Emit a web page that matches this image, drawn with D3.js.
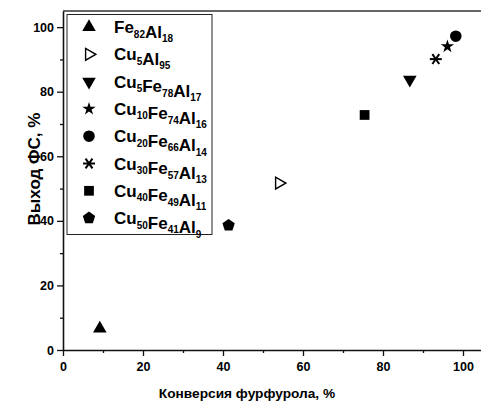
<!DOCTYPE html>
<html>
<head>
<meta charset="utf-8">
<script src="https://cdn.jsdelivr.net/npm/d3@7"></script>
<style>
  body { margin: 0; background: #fff; }
  text { font-family: Arial, "Liberation Sans", sans-serif; font-weight: bold; fill: #000; }
</style>
</head>
<body>
<div></div>
<script>
// catalyst composition: [element, subscript] pairs
const names = [
  [['Fe', '82'], ['Al', '18']],
  [['Cu', '5'], ['Al', '95']],
  [['Cu', '5'], ['Fe', '78'], ['Al', '17']],
  [['Cu', '10'], ['Fe', '74'], ['Al', '16']],
  [['Cu', '20'], ['Fe', '66'], ['Al', '14']],
  [['Cu', '30'], ['Fe', '57'], ['Al', '13']],
  [['Cu', '40'], ['Fe', '49'], ['Al', '11']],
  [['Cu', '50'], ['Fe', '41'], ['Al', '9']]
];
const symbols = ['triUp', 'triRight', 'triDown', 'star', 'circle', 'asterisk', 'square', 'pentagon'];
const conversion = [9.2, 54.0, 86.7, 96.1, 98.2, 93.2, 75.4, 41.4];
const yieldFS = [6.6, 51.7, 83.7, 94.0, 97.2, 90.1, 72.8, 38.6];
const majorTicks = [0, 20, 40, 60, 80, 100];
const minorTicks = [10, 30, 50, 70, 90];

const w = 481;
const h = 403;

const svg = d3
  .select('body')
  .select('div')
  .append('svg')
  .attr('width', w)
  .attr('height', h);

const x = d3.scaleLinear().domain([0, 105]).range([63, 483]);
const y = d3.scaleLinear().domain([0, 105]).range([350, 11]);

// marker shapes
const pentagon = {
  draw(ctx, size) {
    const r = Math.sqrt(size / 2.378);
    for (let i = 0; i < 5; i++) {
      const a = -Math.PI / 2 + (i * 2 * Math.PI) / 5;
      const px = r * Math.cos(a);
      const py = r * Math.sin(a);
      if (i === 0) ctx.moveTo(px, py);
      else ctx.lineTo(px, py);
    }
    ctx.closePath();
  }
};

function marker(g, type) {
  if (type === 'triUp') {
    g.append('path').attr('d', d3.symbol(d3.symbolTriangle, 80)());
  } else if (type === 'triDown') {
    g.append('path').attr('d', d3.symbol(d3.symbolTriangle, 80)()).attr('transform', 'rotate(180)');
  } else if (type === 'triRight') {
    g.append('path')
      .attr('d', d3.symbol(d3.symbolTriangle, 60)())
      .attr('transform', 'rotate(90)')
      .style('fill', '#fff')
      .style('stroke', '#000')
      .style('stroke-width', 1.4);
  } else if (type === 'star') {
    g.append('path').attr('d', d3.symbol(d3.symbolStar, 55)());
  } else if (type === 'circle') {
    g.append('path').attr('d', d3.symbol(d3.symbolCircle, 105)());
  } else if (type === 'square') {
    g.append('path').attr('d', d3.symbol(d3.symbolSquare, 95)());
  } else if (type === 'pentagon') {
    g.append('path').attr('d', d3.symbol(pentagon, 100)());
  } else if (type === 'asterisk') {
    const r = 6;
    [0, 55, 125].forEach((a) => {
      const rad = (a * Math.PI) / 180;
      g.append('line')
        .attr('x1', -r * Math.cos(rad))
        .attr('y1', -r * Math.sin(rad))
        .attr('x2', r * Math.cos(rad))
        .attr('y2', r * Math.sin(rad))
        .style('stroke', '#000')
        .style('stroke-width', 2);
    });
  }
}

// frame top
svg
  .append('line')
  .attr('x1', x(0))
  .attr('x2', w)
  .attr('y1', y(105))
  .attr('y2', y(105))
  .style('stroke', '#333')
  .style('stroke-width', 1.3);

// axes
svg
  .append('g')
  .attr('transform', `translate(0, ${y(0)})`)
  .call(d3.axisBottom(x).tickValues(majorTicks).tickSize(6).tickSizeOuter(0).tickPadding(6));
svg
  .append('g')
  .attr('transform', `translate(0, ${y(0)})`)
  .call(d3.axisBottom(x).tickValues(minorTicks).tickSize(3).tickFormat(''))
  .select('.domain')
  .remove();

svg
  .append('g')
  .attr('transform', `translate(${x(0)}, 0)`)
  .call(d3.axisLeft(y).tickValues(majorTicks).tickSize(6).tickSizeOuter(0).tickPadding(3));
svg
  .append('g')
  .attr('transform', `translate(${x(0)}, 0)`)
  .call(d3.axisLeft(y).tickValues(minorTicks).tickSize(3).tickFormat(''))
  .select('.domain')
  .remove();

svg.selectAll('.domain').style('stroke', '#111').style('stroke-width', 1.6);
svg.selectAll('.tick line').style('stroke', '#111').style('stroke-width', 1.3);
svg
  .selectAll('.tick text')
  .style('font-size', '12.5px')
  .style('font-family', 'Arial, "Liberation Sans", sans-serif')
  .style('font-weight', 'bold');

// axis titles
svg
  .append('text')
  .attr('x', 247)
  .attr('y', 398)
  .attr('text-anchor', 'middle')
  .style('font-size', '13.7px')
  .text('Конверсия фурфурола, %');

svg
  .append('text')
  .attr('transform', 'translate(40, 169) rotate(-90)')
  .attr('text-anchor', 'middle')
  .style('font-size', '17px')
  .text('Выход ФС, %');

// points
conversion.forEach((cv, i) => {
  const g = svg.append('g').attr('transform', `translate(${x(cv)}, ${y(yieldFS[i])})`);
  marker(g, symbols[i]);
});

// legend
const legend = svg.append('g').attr('id', 'legend');
legend
  .append('rect')
  .attr('x', 67)
  .attr('y', 14.5)
  .attr('width', 145)
  .attr('height', 220)
  .style('fill', '#fff')
  .style('stroke', '#222')
  .style('stroke-width', 1);

names.forEach((parts, i) => {
  const cy = 27 + i * 27.3;
  const g = legend.append('g').attr('transform', `translate(89, ${cy})`);
  marker(g, symbols[i]);
  const t = legend
    .append('text')
    .attr('x', 114)
    .attr('y', cy + 6)
    .style('font-size', '17px');
  parts.forEach((p) => {
    t.append('tspan').text(p[0]).attr('dy', 0);
    t.append('tspan').text(p[1]).style('font-size', '10px').attr('dy', 4.5);
    t.append('tspan').text('').attr('dy', -4.5);
  });
});
</script>
</body>
</html>
